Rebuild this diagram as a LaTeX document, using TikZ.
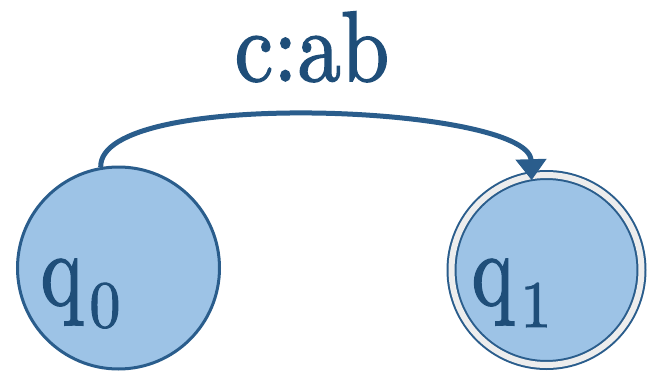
\documentclass[tikz,border=0pt]{standalone}
\usepackage{fontspec}
\newfontface\heavyserif{lmroman10-regular.otf}[FakeBold=1.6]
\usetikzlibrary{arrows.meta}
\definecolor{fillblue}{HTML}{9DC3E6}
\definecolor{strokeblue}{HTML}{2A5D8C}
\definecolor{textblue}{HTML}{1F4E79}
\definecolor{gapgrey}{HTML}{EDEDED}
\tikzset{
  statebox/.style={circle, fill=fillblue, draw=strokeblue, inner sep=0pt},
  statelabel/.style={anchor=base west, inner sep=0pt, text=textblue},
  transition/.style={draw=strokeblue, line width=5pt, -{Triangle[length=21pt,width=30pt]}},
  edgelabel/.style={anchor=base, inner sep=0pt, text=textblue}
}
\newcommand{\statename}[2]{\scalebox{1}[1.3]{\fontsize{80}{80}\heavyserif #1}\kern6.5pt\raisebox{-22pt}{\scalebox{1}[1.07]{\fontsize{62}{62}\heavyserif #2}}}
\begin{document}
\begin{tikzpicture}[x=1pt,y=-1pt]
\useasboundingbox (0,0) rectangle (649,375);
\node[statebox, line width=3pt, minimum size=202pt] (q0) at (118.5,268) {};
\node[statebox, line width=2pt, double=gapgrey, double distance=6pt, minimum size=190pt] (q1) at (546.5,270) {};
\node[statelabel] (q0lab) at (40.5,305) {\statename{q}{0}};
\node[statelabel] (q1lab) at (471.5,305) {\statename{q}{1}};
\draw[transition, shorten >=-5pt] (q0.100) .. controls +(-2,-80) and +(-2,-70) .. (q1.99);
\node[edgelabel] (lab) at (312,81) {\scalebox{1}[1.15]{\fontsize{87}{87}\heavyserif c:ab}};
\end{tikzpicture}
\end{document}
